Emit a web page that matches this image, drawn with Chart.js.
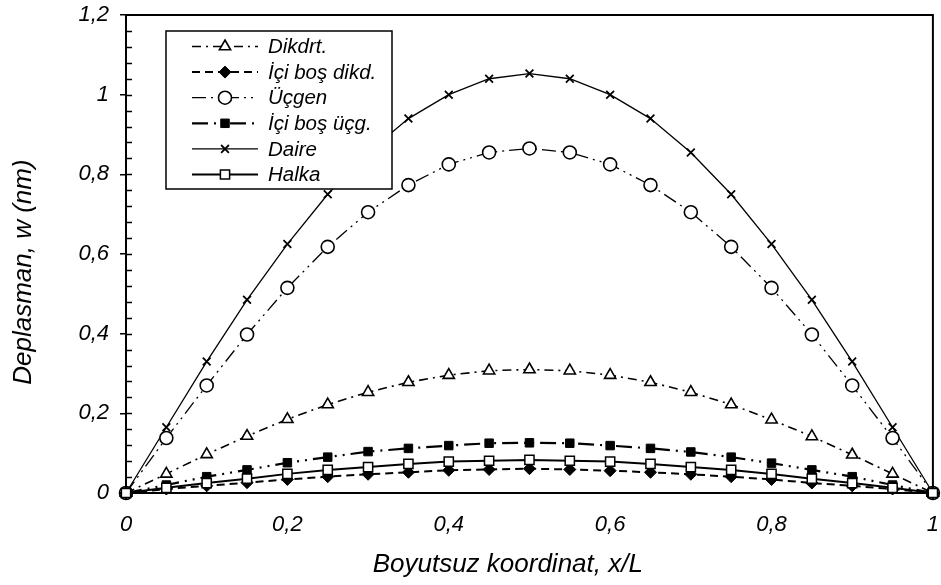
<!DOCTYPE html>
<html>
<head>
<meta charset="utf-8">
<script src="https://cdn.jsdelivr.net/npm/chart.js@4.4.1/dist/chart.umd.min.js"></script>
<style>
  html, body { margin: 0; padding: 0; background: #fff; }
</style>
</head>
<body>
<canvas id="deflChart" width="941" height="585"></canvas>
<script>

// DATA

const xPos = [0, 0.05, 0.1, 0.15, 0.2, 0.25, 0.3, 0.35, 0.4, 0.45, 0.5,
              0.55, 0.6, 0.65, 0.7, 0.75, 0.8, 0.85, 0.9, 0.95, 1];

const dikdrt = [0, 0.048, 0.097, 0.143, 0.185, 0.222, 0.253, 0.278, 0.296, 0.307, 0.31,
                0.307, 0.296, 0.278, 0.253, 0.222, 0.184, 0.142, 0.096, 0.048, 0];

const iciBosDikd = [0, 0.01, 0.018, 0.026, 0.034, 0.041, 0.047, 0.052, 0.057, 0.059, 0.061,
                    0.059, 0.056, 0.052, 0.047, 0.041, 0.034, 0.025, 0.018, 0.01, 0];

const ucgen = [0, 0.138, 0.27, 0.398, 0.515, 0.618, 0.705, 0.773, 0.825, 0.855, 0.865,
               0.855, 0.825, 0.773, 0.705, 0.618, 0.515, 0.398, 0.27, 0.138, 0];

const iciBosUcg = [0, 0.02, 0.041, 0.058, 0.076, 0.09, 0.104, 0.112, 0.119, 0.125, 0.126,
                   0.125, 0.119, 0.112, 0.103, 0.09, 0.075, 0.058, 0.041, 0.02, 0];

const daire = [0, 0.165, 0.33, 0.485, 0.625, 0.75, 0.855, 0.94, 1.0, 1.04, 1.053,
               1.04, 1.0, 0.94, 0.855, 0.75, 0.625, 0.485, 0.33, 0.165, 0];

const halka = [0, 0.013, 0.025, 0.036, 0.048, 0.058, 0.065, 0.073, 0.079, 0.081, 0.083,
               0.081, 0.079, 0.073, 0.065, 0.058, 0.048, 0.036, 0.025, 0.013, 0];

const seriesNames = ["Dikdrt.", "İçi boş dikd.", "Üçgen", "İçi boş üçg.", "Daire", "Halka"];

const xTicks = [0, 0.2, 0.4, 0.6, 0.8, 1];
const yTicks = [0, 0.2, 0.4, 0.6, 0.8, 1, 1.2];

const FONT = "'Liberation Sans', Arial, sans-serif";

function pts(arr) {
  return arr.map((v, i) => ({ x: xPos[i], y: v }));
}

function fmt(v) {
  return String(Math.round(v * 10) / 10).replace(".", ",");
}

// FRAME, INNER TICKS, LEGEND

const framePlugin = {
  id: "frame",
  beforeDatasetsDraw(chart) {
    const { ctx, chartArea: a, scales } = chart;
    ctx.save();
    ctx.strokeStyle = "#000";
    ctx.lineWidth = 2;
    ctx.strokeRect(a.left, a.top, a.right - a.left, a.bottom - a.top);

    // minor + major ticks inside the y axis
    ctx.lineWidth = 1.5;
    for (let i = 1; i < 30; i++) {
      const py = Math.round(scales.y.getPixelForValue(i * 0.04)) + 0.5;
      ctx.beginPath();
      ctx.moveTo(a.left, py);
      ctx.lineTo(a.left + 6, py);
      ctx.stroke();
    }
    ctx.restore();
  },
  afterDatasetsDraw(chart) {
    const ctx = chart.ctx;
    const box = { left: 166, top: 31, right: 392, bottom: 189 };
    ctx.save();
    ctx.fillStyle = "#fff";
    ctx.fillRect(box.left, box.top, box.right - box.left, box.bottom - box.top);
    ctx.strokeStyle = "#000";
    ctx.lineWidth = 1.5;
    ctx.strokeRect(box.left, box.top, box.right - box.left, box.bottom - box.top);

    chart.data.datasets.forEach((ds, i) => {
      const y = 46.5 + i * 25.6;

      // line sample
      ctx.strokeStyle = "#000";
      ctx.lineWidth = ds.borderWidth;
      ctx.setLineDash(ds.borderDash || []);
      ctx.beginPath();
      ctx.moveTo(192, y);
      ctx.lineTo(258, y);
      ctx.stroke();
      ctx.setLineDash([]);

      // marker
      ctx.fillStyle = ds.pointBackgroundColor;
      ctx.strokeStyle = ds.pointBorderColor;
      ctx.lineWidth = ds.pointBorderWidth;
      Chart.helpers.drawPoint(ctx, {
        pointStyle: ds.pointStyle,
        radius: ds.pointRadius,
        borderWidth: ds.pointBorderWidth,
        rotation: 0
      }, 225, y);

      // text
      ctx.fillStyle = "#000";
      ctx.font = "italic 20.5px " + FONT;
      ctx.textAlign = "left";
      ctx.textBaseline = "middle";
      ctx.fillText(ds.label, 268, y + 1);
    });
    ctx.restore();
  }
};

// CHART

Chart.defaults.font.family = FONT;
Chart.defaults.color = "#000";

const ctx = document.getElementById("deflChart");

new Chart(ctx, {
  type: "line",
  data: {
    datasets: [
      {
        label: seriesNames[0], data: pts(dikdrt), order: 3,
        borderColor: "#000", borderWidth: 1.6, borderDash: [9, 5, 2, 5],
        pointStyle: "triangle", pointRadius: 6.5, pointBorderWidth: 1.6,
        pointBackgroundColor: "#fff", pointBorderColor: "#000"
      },
      {
        label: seriesNames[1], data: pts(iciBosDikd), order: 2,
        borderColor: "#000", borderWidth: 2, borderDash: [8, 5],
        pointStyle: "rectRot", pointRadius: 6, pointBorderWidth: 1,
        pointBackgroundColor: "#000", pointBorderColor: "#000"
      },
      {
        label: seriesNames[2], data: pts(ucgen), order: 4,
        borderColor: "#000", borderWidth: 1.3, borderDash: [14, 5, 2, 5, 2, 5],
        pointStyle: "circle", pointRadius: 6.5, pointBorderWidth: 1.6,
        pointBackgroundColor: "#fff", pointBorderColor: "#000"
      },
      {
        label: seriesNames[3], data: pts(iciBosUcg), order: 1,
        borderColor: "#000", borderWidth: 2.2, borderDash: [16, 6, 2, 6, 2, 6],
        pointStyle: "rect", pointRadius: 6, pointBorderWidth: 1,
        pointBackgroundColor: "#000", pointBorderColor: "#000"
      },
      {
        label: seriesNames[4], data: pts(daire), order: 5,
        borderColor: "#000", borderWidth: 1.3,
        pointStyle: "crossRot", pointRadius: 5.5, pointBorderWidth: 1.8,
        pointBackgroundColor: "#000", pointBorderColor: "#000"
      },
      {
        label: seriesNames[5], data: pts(halka), order: 0,
        borderColor: "#000", borderWidth: 2,
        pointStyle: "rect", pointRadius: 6.5, pointBorderWidth: 1.5,
        pointBackgroundColor: "#fff", pointBorderColor: "#000"
      }
    ].map(ds => Object.assign(ds, { tension: 0, fill: false, clip: false, pointHoverRadius: ds.pointRadius }))
  },
  options: {
    responsive: false,
    animation: false,
    events: [],
    layout: { padding: { top: 15, right: 6, left: 0, bottom: 0 } },
    plugins: {
      legend: { display: false },
      tooltip: { enabled: false }
    },
    scales: {
      x: {
        type: "linear",
        min: 0,
        max: 1,
        afterFit(scale) {
          scale.height = 92;
          scale.paddingLeft = 0;
          scale.paddingRight = 0;
        },
        afterBuildTicks(scale) { scale.ticks = xTicks.map(v => ({ value: v })); },
        ticks: {
          padding: 19,
          font: { size: 22, style: "italic" },
          callback: v => fmt(v)
        },
        grid: { display: false, drawTicks: false },
        border: { display: true, color: "#000", width: 2 },
        title: {
          display: true,
          text: "Boyutsuz koordinat, x/L      ",
          font: { size: 26, style: "italic" },
          padding: { top: 0, bottom: 5 }
        }
      },
      y: {
        type: "linear",
        min: 0,
        max: 1.2,
        afterFit(scale) {
          scale.width = 126;
          scale.paddingTop = 0;
          scale.paddingBottom = 0;
        },
        afterBuildTicks(scale) { scale.ticks = yTicks.map(v => ({ value: v })); },
        ticks: {
          padding: 11,
          font: { size: 22, style: "italic" },
          callback: v => fmt(v)
        },
        grid: {
          drawOnChartArea: false,
          drawTicks: true,
          tickLength: 6,
          color: "#000",
          lineWidth: 1.5
        },
        border: { display: true, color: "#000", width: 2 },
        title: {
          display: true,
          text: "Deplasman, w (nm)     ",
          font: { size: 26, style: "italic" },
          padding: { top: 8, bottom: 0 }
        }
      }
    }
  },
  plugins: [framePlugin]
});

</script>
</body>
</html>
